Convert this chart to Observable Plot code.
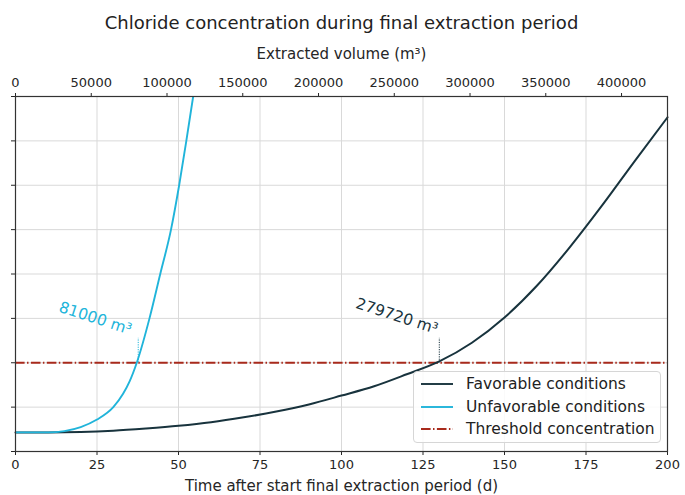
<!DOCTYPE html>
<html>
<head>
<meta charset="utf-8">
<script src="https://cdn.jsdelivr.net/npm/d3@7"></script>
<script src="https://cdn.jsdelivr.net/npm/@observablehq/plot@0.6"></script>
<style>
  html, body { margin: 0; padding: 0; background: #fff; }
  #wrap { position: relative; width: 685px; height: 495px; font-family: "DejaVu Sans", sans-serif; }
  #legend { position: absolute; left: 413px; top: 371px; width: 248px; height: 72px;
    border: 1px solid #d6d6d6; border-radius: 4px; background: rgba(255,255,255,0.85);
    box-sizing: border-box; font-size: 15.5px; color: #222; }
  #legend .row { position: absolute; left: 6px; height: 20px; display: flex; align-items: center; }
  #legend svg { margin-right: 12px; }
</style>
</head>
<body>
<div id="wrap"></div>
<script>
// ---- data ----
const favDays   = [0, 10, 20, 30, 40, 50, 60, 70, 80, 90, 100, 110, 120, 130, 140, 150, 160, 170, 180, 190, 200];
const favValues = [0.43, 0.43, 0.44, 0.47, 0.52, 0.58, 0.66, 0.77, 0.90, 1.06, 1.26, 1.47, 1.74, 2.03, 2.45, 3.02, 3.74, 4.60, 5.55, 6.55, 7.53];
const unfDays   = [0, 10, 15, 20, 25, 30, 33, 35, 37.2, 41.1, 44.4, 47.7, 50.2, 52.4, 54.5];
const unfValues = [0.43, 0.43, 0.46, 0.55, 0.72, 1.0, 1.3, 1.58, 2.0, 3.0, 4.0, 5.0, 6.0, 7.0, 8.0];
const threshold = 2;
const rate = 2151.7;                // m3 per day
const volumeTicks = [0, 50000, 100000, 150000, 200000, 250000, 300000, 350000, 400000];
const dayTicks = [0, 25, 50, 75, 100, 125, 150, 175, 200];
const yTicks = [0, 1, 2, 3, 4, 5, 6, 7, 8];
const crossVolumes = [81000, 279720];
const crossLabels = ["81000 m³", "279720 m³"];
const labelDays = [24.5, 117];
const labelValues = [3.0, 3.05];
const seriesNames = ["Favorable conditions", "Unfavorable conditions", "Threshold concentration"];
const colors = ["#18333d", "#20b4da", "#a82a1c"];
const crossColors = [colors[1], colors[0]];

const fav = favDays.map((d, i) => ({t: d, v: favValues[i]}));
const unf = unfDays.map((d, i) => ({t: d, v: unfValues[i]}));
const cross = crossVolumes.map((vol, i) => ({t: vol / rate, color: crossColors[i], label: crossLabels[i], lt: labelDays[i], lv: labelValues[i]}));

const plot = Plot.plot({
  width: 685,
  height: 495,
  marginLeft: 15,
  marginRight: 18,
  marginTop: 96,
  marginBottom: 44,
  style: {fontFamily: "DejaVu Sans", fontSize: "13px", color: "#262626", background: "#fff"},
  x: {domain: [0, 200]},
  y: {domain: [0, 8]},
  marks: [
    Plot.gridX(dayTicks, {stroke: "#d9d9d9", strokeOpacity: 1}),
    Plot.gridY(yTicks, {stroke: "#d9d9d9", strokeOpacity: 1}),
    Plot.ruleY([threshold], {stroke: colors[2], strokeWidth: 1.8, strokeDasharray: "9.6,2.4,1.5,2.4"}),
    Plot.line(fav, {x: "t", y: "v", stroke: colors[0], strokeWidth: 2, curve: "monotone-x"}),
    Plot.line(unf, {x: "t", y: "v", stroke: colors[1], strokeWidth: 1.9, curve: "monotone-x", clip: true}),
    Plot.ruleX(cross, {x: "t", y1: threshold, y2: 2.55, stroke: "color", strokeWidth: 1, strokeDasharray: "1.2,1.2"}),
    Plot.text(cross, {x: "lt", y: "lv", text: "label", fill: "color", rotate: 18, fontSize: 15.5}),
    Plot.axisX(dayTicks, {anchor: "bottom", tickSize: 4, tickPadding: 4, fontSize: 13,
      label: "Time after start final extraction period (d)", labelAnchor: "center", labelArrow: "none", labelOffset: 39}),
    Plot.axisX(volumeTicks.map(v => v / rate), {anchor: "top", tickSize: 4, tickPadding: 6, fontSize: 13,
      tickFormat: d => String(Math.round(d * rate)),
      label: "Extracted volume (m³)", labelAnchor: "center", labelArrow: "none", labelOffset: 48}),
    Plot.axisY(yTicks, {anchor: "left", tickSize: 4, tickFormat: () => "", label: null}),
    Plot.frame({stroke: "#333", strokeWidth: 1.2}),
    Plot.text(["Chloride concentration during final extraction period"], {frameAnchor: "top", dy: -80, fontSize: 18, fill: "#222"})
  ]
});

// enlarge axis labels (the label texts are the ones with the labelAnchor)
plot.querySelectorAll("g[aria-label='x-axis label'] text").forEach(t => t.setAttribute("font-size", "15"));

const wrap = document.getElementById("wrap");
wrap.appendChild(plot);

// legend
const legend = document.createElement("div");
legend.id = "legend";
const dashes = [null, null, "9.6,2.4,1.5,2.4"];
seriesNames.forEach((name, i) => {
  const row = document.createElement("div");
  row.className = "row";
  row.style.top = (2 + i * 22.5) + "px";
  row.innerHTML = `<svg width="34" height="10"><line x1="1" x2="33" y1="5" y2="5" stroke="${colors[i]}" stroke-width="1.9" ${dashes[i] ? `stroke-dasharray="${dashes[i]}"` : ""}/></svg><span>${name}</span>`;
  legend.appendChild(row);
});
wrap.appendChild(legend);
</script>
</body>
</html>
